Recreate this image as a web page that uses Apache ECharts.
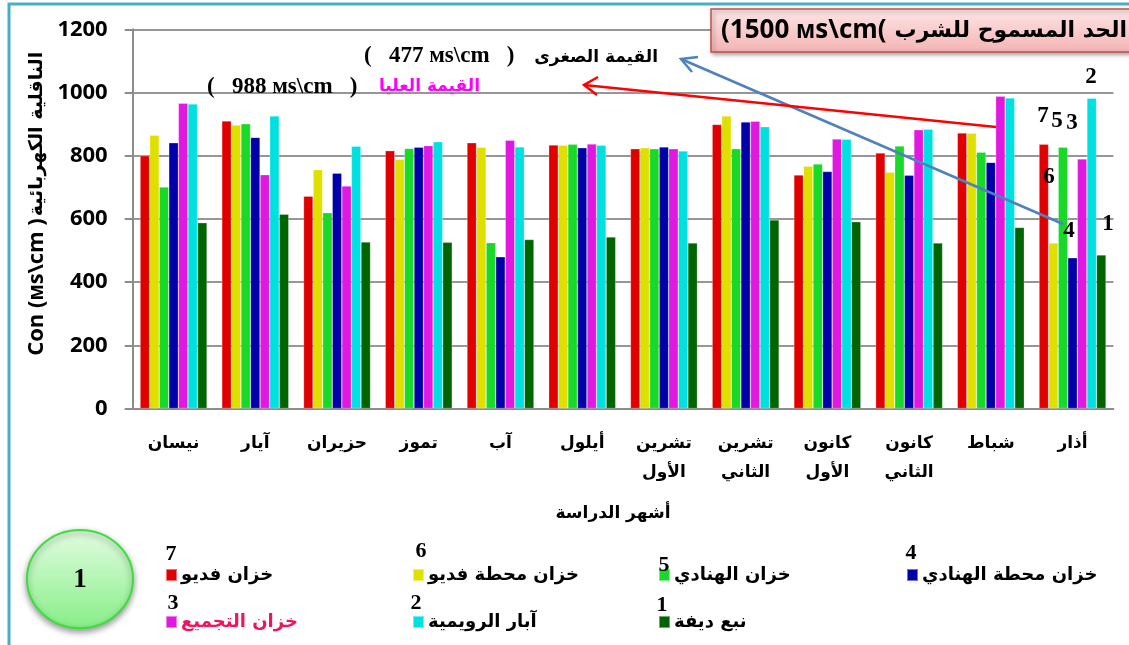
<!DOCTYPE html>
<html dir="ltr">
<head>
<meta charset="utf-8">
<script src="https://cdn.jsdelivr.net/npm/echarts@6/dist/echarts.min.js"></script>
<style>html,body{margin:0;padding:0;background:#fff;}#c{width:1129px;height:645px;}</style>
</head>
<body>
<div id="c"></div>
<script>
const categories = ['نيسان','آيار','حزيران','تموز','آب','أيلول','تشرين\nالأول','تشرين\nالثاني','كانون\nالأول','كانون\nالثاني','شباط','أذار'];
const seriesNames = ['خزان فديو','خزان محطة فديو','خزان الهنادي','خزان محطة الهنادي','خزان التجميع','آبار الرويمية','نبع ديفة'];
const seriesColors = ['#e00000','#e0e000','#18d828','#0000a8','#e018e0','#00e0e0','#006400'];
const khazanFidyo      = [800,910,672,816,841,834,822,899,739,809,872,836];
const mahattaFidyo     = [865,897,756,789,827,833,825,926,767,748,871,524];
const khazanHanadi     = [701,901,620,823,525,836,822,822,774,831,811,827];
const mahattaHanadi    = [841,858,745,827,480,825,828,907,750,738,779,477];
const khazanTajmee     = [966,740,704,832,849,837,822,909,853,882,988,790];
const aabarRuwaimiya   = [964,926,830,844,828,833,815,892,852,884,983,982];
const nabaDifa         = [588,615,527,526,535,543,524,597,591,524,573,486];
const yTicks = [0,200,400,600,800,1000,1200];
const seriesData = [khazanFidyo, mahattaFidyo, khazanHanadi, mahattaHanadi, khazanTajmee, aabarRuwaimiya, nabaDifa];
const legendNumbers = ['7','6','5','4','3','2','1'];

const AR = '"DejaVu Sans", sans-serif';
const LAT = '"Open Sans", sans-serif';
const SER = '"Liberation Serif", "DejaVu Serif", serif';

const chart = echarts.init(document.getElementById('c'), null, {renderer:'canvas'});

// legend layout: [squareLeft, squareCenterY, textColor, numberX, numberY]
const legendPos = [
  [165, 576, '#000', 171, 554],
  [412, 576, '#000', 421, 551],
  [658, 576, '#000', 664, 565],
  [906, 576, '#000', 911, 553],
  [165, 623, '#f0145a', 173, 603],
  [412, 623, '#000', 416, 603],
  [658, 623, '#000', 662, 605]
];

const legends = seriesNames.map((n,i)=>({
  data:[n], left: legendPos[i][0], top: legendPos[i][1]-10, orient:'horizontal',
  icon:'rect', itemWidth:11, itemHeight:12, itemGap:0, padding:0,
  selectedMode:false,
  textStyle:{fontFamily:AR, fontWeight:'bold', fontSize:18, color:legendPos[i][2], padding:[0,0,0,-1]}
}));

const graphics = [];
// outer frame
graphics.push({type:'rect', shape:{x:9, y:4, width:1140, height:660}, style:{fill:null, stroke:'#4bacc6', lineWidth:3}, silent:true, z:-1});
// title box
graphics.push({type:'rect', shape:{x:711, y:9, width:430, height:43}, style:{
  fill:new echarts.graphic.LinearGradient(0,0,0,1,[{offset:0,color:'#fde6e6'},{offset:1,color:'#f4b3b3'}]),
  stroke:'#c0504d', lineWidth:1.5, shadowBlur:4, shadowColor:'rgba(0,0,0,0.35)', shadowOffsetX:2, shadowOffsetY:2}, z:10});
graphics.push({type:'text', x:721, y:31, style:{text:'(1500 ᴍs\\cm(', font:'bold 26px '+LAT, fill:'#000', textAlign:'left', textVerticalAlign:'middle'}, z:11});
graphics.push({type:'text', x:1127, y:31, style:{text:'الحد المسموح للشرب', font:'bold 22px '+AR, fill:'#000', textAlign:'right', textVerticalAlign:'middle'}, z:11});
// annotations
graphics.push({type:'text', x:658, y:58, style:{text:'القيمة الصغرى', font:'bold 17px '+AR, fill:'#000', textAlign:'right', textVerticalAlign:'middle'}, z:11});
graphics.push({type:'text', x:364, y:56, style:{text:'(   477 ᴍs\\cm   )', font:'bold 23px '+SER, fill:'#000', textAlign:'left', textVerticalAlign:'middle'}, z:11});
graphics.push({type:'text', x:480, y:87, style:{text:'القيمة العليا', font:'bold 17px '+AR, fill:'#ff00ff', textAlign:'right', textVerticalAlign:'middle'}, z:11});
graphics.push({type:'text', x:207, y:87, style:{text:'(   988 ᴍs\\cm   )', font:'bold 23px '+SER, fill:'#000', textAlign:'left', textVerticalAlign:'middle'}, z:11});
// arrows
graphics.push({type:'line', shape:{x1:1063, y1:224, x2:681, y2:59}, style:{stroke:'#4f81bd', lineWidth:2.5}, z:12});
graphics.push({type:'polyline', shape:{points:[[698,57],[681,59],[692,72]]}, style:{stroke:'#4f81bd', lineWidth:2.5, fill:null}, z:12});
graphics.push({type:'line', shape:{x1:996, y1:127, x2:584, y2:85}, style:{stroke:'#ff0000', lineWidth:2.5}, z:12});
graphics.push({type:'polyline', shape:{points:[[598,77],[584,85],[597,95]]}, style:{stroke:'#ff0000', lineWidth:2.5, fill:null}, z:12});
// numbers on last group
[['2',1091,77],['7',1043,116],['5',1057,121],['3',1072,123],['6',1049,177],['4',1069,231],['1',1108,224]].forEach(a=>{
  graphics.push({type:'text', x:a[1], y:a[2], style:{text:a[0], font:'bold 23px '+SER, fill:'#000', textAlign:'center', textVerticalAlign:'middle'}, z:12});
});
// legend numbers
legendPos.forEach((p,i)=>{
  graphics.push({type:'text', x:p[3], y:p[4], style:{text:legendNumbers[i], font:'bold 22px '+SER, fill:'#000', textAlign:'center', textVerticalAlign:'middle'}, z:12});
});
// ellipse
graphics.push({type:'ellipse', shape:{cx:80, cy:579, rx:53, ry:49}, style:{
  fill:new echarts.graphic.LinearGradient(0,0,0,1,[{offset:0,color:'#e2fce2'},{offset:1,color:'#86ee86'}]),
  stroke:'#3ce03c', lineWidth:2, shadowBlur:6, shadowColor:'rgba(0,0,0,0.4)', shadowOffsetY:3}, z:10});
graphics.push({type:'text', x:80, y:580, style:{text:'1', font:'bold 27px '+SER, fill:'#000', textAlign:'center', textVerticalAlign:'middle'}, z:11});
// y axis name
graphics.push({type:'text', x:37, y:287, rotation:Math.PI/2, style:{text:'Con (ᴍs\\cm )', font:'bold 22px '+LAT, fill:'#000', textAlign:'center', textVerticalAlign:'middle'}, z:11});
graphics.push({type:'text', x:37, y:134, rotation:Math.PI/2, style:{text:'الناقلية الكهربائية', font:'bold 19px '+AR, fill:'#000', textAlign:'center', textVerticalAlign:'middle'}, z:11});
// x axis name
graphics.push({type:'text', x:613, y:514, style:{text:'أشهر الدراسة', font:'bold 17px '+AR, fill:'#000', textAlign:'center', textVerticalAlign:'middle'}, z:11});

const option = {
  backgroundColor:'#fff',
  animation:false,
  grid:{left:132.7, right:15.6, top:29.3, bottom:236.5, containLabel:false},
  legend: legends,
  xAxis:{
    type:'category', data:categories,
    axisLine:{lineStyle:{color:'#8c8c8c', width:2}},
    axisTick:{show:false},
    axisLabel:{interval:0, margin:21, lineHeight:29, fontFamily:AR, fontWeight:'bold', fontSize:17, color:'#000'}
  },
  yAxis:{
    type:'value', min:0, max:1200, interval:200,
    axisLine:{show:true, lineStyle:{color:'#8c8c8c', width:2}},
    axisTick:{show:true, inside:false, length:8, lineStyle:{color:'#8c8c8c', width:2}},
    splitLine:{lineStyle:{color:'#969696', width:2}},
    axisLabel:{margin:25, fontFamily:LAT, fontWeight:'bold', fontSize:22, color:'#000',
      formatter:(v)=> yTicks.includes(v) ? String(v) : ''}
  },
  series: seriesNames.map((n,i)=>({
    name:n, type:'bar', data:seriesData[i], barGap:'0%', barCategoryGap:'18%',
    itemStyle:{color:seriesColors[i], borderColor:'rgba(255,255,255,0.45)', borderWidth:0.6},
    emphasis:{disabled:true}
  })),
  graphic: graphics
};
chart.setOption(option);
</script>
</body>
</html>
